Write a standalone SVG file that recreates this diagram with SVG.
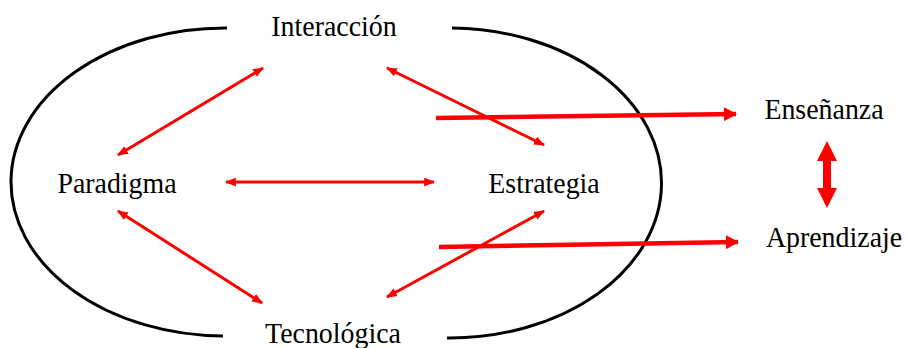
<svg xmlns="http://www.w3.org/2000/svg" width="907" height="348" viewBox="0 0 907 348">
<style>
.lbl{font-family:"Liberation Serif","Times New Roman",serif;font-size:30px;fill:#000;text-anchor:middle}
.arc{fill:none;stroke:#000;stroke-width:3}
.thin{stroke:#f00;stroke-width:3;fill:none;marker-start:url(#ah);marker-end:url(#ah)}
.thick{stroke:#f00;stroke-width:4.5;fill:none;marker-end:url(#bh)}
</style>
<defs>
<marker id="ah" viewBox="0 0 10 8" refX="9" refY="4" markerWidth="11" markerHeight="9" markerUnits="userSpaceOnUse" orient="auto-start-reverse">
<path d="M0,0 L10,4 L0,8 z" fill="#f00"/>
</marker>
<marker id="bh" viewBox="0 0 13 14" refX="12" refY="7" markerWidth="13" markerHeight="14" markerUnits="userSpaceOnUse" orient="auto">
<path d="M0,0 L13,7 L0,14 z" fill="#f00"/>
</marker>
</defs>
<g id="ellipse">
<path class="arc" d="M227,28 A214,154 0 0 0 223,336"/>
<path class="arc" d="M452,28 A212,155 0 0 1 447,338"/>
</g>
<g id="connectors">
<line class="thin" x1="118" y1="155" x2="263" y2="68"/>
<line class="thin" x1="118" y1="211" x2="262" y2="303"/>
<line class="thin" x1="226" y1="182" x2="434" y2="182"/>
<line class="thin" x1="387" y1="68" x2="544" y2="145"/>
<line class="thin" x1="544" y1="211" x2="387" y2="297"/>
<line class="thick" x1="436" y1="118" x2="736" y2="114"/>
<line class="thick" x1="439" y1="247" x2="738" y2="242"/>
<polygon points="827,141 837,161 831,161 831,188 837,188 827,208 817,188 823,188 823,161 817,161" fill="#f00"/>
</g>
<g id="interaccion" transform="translate(334,36) scale(0.93,1)"><text class="lbl">Interacción</text></g>
<g id="paradigma" transform="translate(117,193) scale(0.93,1)"><text class="lbl">Paradigma</text></g>
<g id="estrategia" transform="translate(544,193) scale(0.93,1)"><text class="lbl">Estrategia</text></g>
<g id="tecnologica" transform="translate(333,343) scale(0.93,1)"><text class="lbl">Tecnológica</text></g>
<g id="ensenanza" transform="translate(824,119) scale(0.93,1)"><text class="lbl">Enseñanza</text></g>
<g id="aprendizaje" transform="translate(834,247) scale(0.93,1)"><text class="lbl">Aprendizaje</text></g>
</svg>
